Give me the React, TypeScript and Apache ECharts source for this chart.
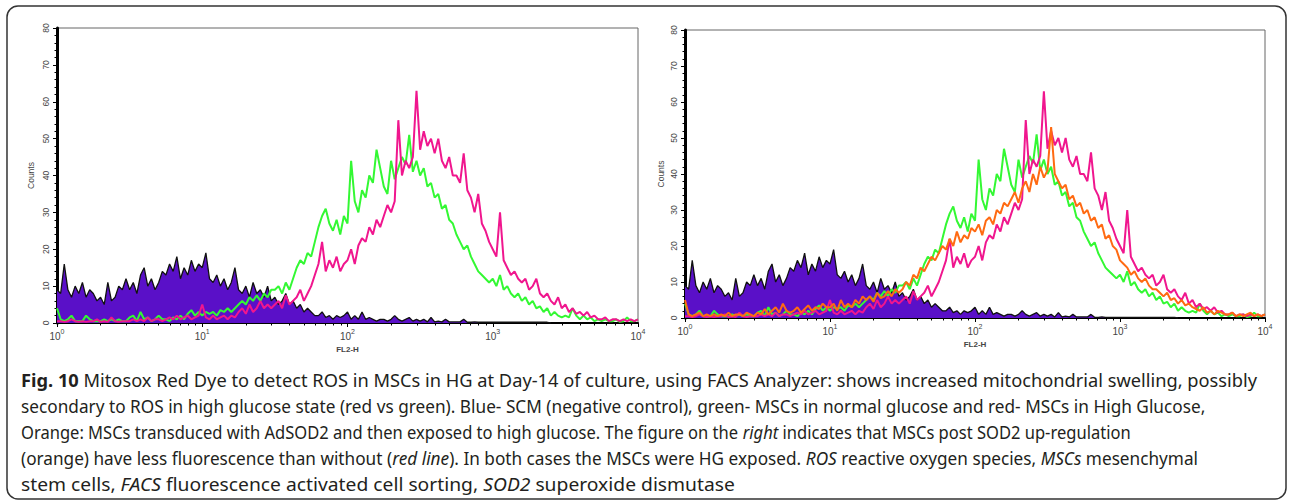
import React, { useEffect, useRef } from "react";
import * as echarts from "echarts";

// channel grid: log10(FL2-H) from 0 to 4 in steps of 0.025 decades
const E_STEP = 0.025;
const Y_MAX = 80;
const Y_STEP = 10;

// Blue – SCM (negative control)
const blueSCM = [
  9, 8, 16, 9, 7, 10, 8, 11, 7, 9,
  8, 6, 7, 5, 11, 6, 7, 10, 9, 12,
  9, 11, 8, 13, 15, 10, 12, 9, 11, 14,
  13, 16, 14, 18, 12, 15, 13, 17, 14, 16,
  15, 19, 12, 11, 13, 10, 12, 9, 11, 15,
  9, 8, 10, 7, 11, 8, 9, 7, 10, 6,
  7, 5, 6, 8, 5, 6, 4, 5, 3, 4,
  3, 2, 2, 3, 1.5, 2, 1, 2, 1.5, 2,
  3, 1, 2, 1, 3, 1, 1.5, 1, 0.5, 1,
  1, 0.5, 1, 2, 1, 0.5, 1, 1.5, 0.5, 1,
  0.5, 1, 0.3, 1.5, 0.3, 0.5, 0.3, 1, 0.3, 0.3,
  0.3, 0.3, 1, 0.2, 0.2, 0.3, 0.2, 0.2, 0.2, 0.2,
  0.2, 0.2, 0.2, 0.2, 0.2, 0.2, 0.2, 0.2, 0.2, 0.2,
  0.2, 0.2, 0.2, 0.2, 0.2, 0.2, 0,
];

// Green – MSCs in normal glucose
const greenNG = [
  4, 1, 0.5, 1, 2, 0.5, 0.5, 0.5, 2, 1,
  0.5, 0.5, 0.5, 1, 0.5, 1, 0.5, 1, 0.5, 0.5,
  1.5, 2, 0.5, 3, 1, 1.5, 0.5, 1, 2, 1,
  1, 0.5, 1.5, 1, 2, 1, 2.5, 3.5, 2, 3,
  2, 3, 2.5, 3, 2, 3.5, 3, 4, 3, 4,
  5, 6, 5, 7, 6, 7.5, 6, 8, 7, 9,
  9, 10, 8, 11, 9, 12, 15, 17, 16, 19,
  18, 22, 26, 29, 31, 27, 25, 28, 24, 29,
  27, 44, 33, 30, 36, 34, 40, 38, 47, 42,
  37, 35, 44, 39, 42, 45, 43, 51, 41, 44,
  40, 42, 37, 38, 34, 35, 31, 32, 28, 27,
  24, 22, 20, 21, 18, 16, 14, 13, 12, 11,
  12, 10, 13, 9, 10, 8, 7, 8, 6, 7,
  5, 6, 4, 4.5, 3, 4, 2, 3, 2, 1.5,
  2, 1.5, 4, 2, 1, 2, 1, 1.5, 0.5, 1,
  0.5, 1, 0.5, 0.5, 1, 0.3, 0.5, 1.5, 0.5, 0.5, 1,
];

// Red (pink) – MSCs in high glucose
const pinkHG = [
  0.5, 0.5, 0.3, 0.5, 1, 0.5, 0.3, 0.5, 0.3, 0.5,
  0.5, 1, 0.3, 0.5, 0.3, 1.5, 0.5, 0.3, 0.5, 0.5,
  0.5, 1, 0.5, 1, 0.5, 1.5, 0.5, 1, 1, 0.5,
  1, 1.5, 1, 2, 1, 1.5, 2, 1, 1.5, 2,
  5, 1.5, 1, 2, 1, 1.5, 2, 1, 2, 1.5,
  3, 4, 2.5, 5, 3, 4, 6, 4, 5, 4,
  5, 6, 4, 7.5, 5, 6, 7, 9, 6, 8,
  10, 13, 16, 22, 14, 17, 15, 18, 14, 16,
  17, 20, 16, 21, 23, 22, 26, 24, 28, 26,
  29, 32, 30, 33, 55, 40, 44, 42, 45, 63,
  47, 52, 48, 50, 46, 50, 44, 42, 45, 40,
  40, 38, 46, 36, 34, 30, 35, 27, 25, 22,
  20, 18, 30, 17, 15, 13, 14, 12, 11, 12,
  9, 10, 12, 8, 7, 8, 6, 5, 7, 4,
  5, 3, 4, 2.5, 3, 2, 3, 1.5, 2, 1,
  1, 1.5, 0.5, 1, 1, 0.5, 1, 0.5, 1, 0.5, 1,
];

// Orange – MSCs transduced with AdSOD2, then high glucose
const orangeAdSOD2 = [
  5, 1, 0.5, 1, 1.5, 0.5, 1, 0.5, 1, 0.5,
  1, 0.5, 1.5, 0.5, 1, 1, 0.5, 1.5, 1, 0.5,
  1.5, 1, 2.5, 1, 2, 3, 1.5, 4, 2, 1.5,
  2, 3, 1.5, 2.5, 3.5, 2, 3, 2.5, 4, 3,
  3, 4, 2, 5, 3, 4, 3, 5, 4, 6,
  5, 6, 4.5, 7, 5.5, 6, 7.5, 6, 8, 7,
  8, 10, 9, 12, 11, 14, 13, 15, 17, 16,
  18, 20, 19, 22, 20, 24, 21, 23, 22, 25,
  24, 26, 23, 27, 28, 26, 30, 29, 32, 31,
  33, 35, 32, 36, 38, 35, 40, 37, 42, 39,
  41, 53, 40, 38, 36, 37, 33, 34, 31, 32,
  29, 30, 27, 28, 25, 26, 22, 23, 20, 19,
  16, 15, 14, 12, 13, 11, 10, 11, 9, 8,
  8, 7, 6, 7, 5, 5.5, 4, 5, 3.5, 4,
  3, 2.5, 2, 3, 1.5, 2, 1, 2, 1.5, 1,
  1, 1.5, 0.5, 1, 0.5, 1, 1.5, 0.5, 1, 0.5, 1,
];

const CAPTION_LINES = [
  "{b|Fig. 10} Mitosox Red Dye to detect ROS in MSCs in HG at Day-14 of culture, using FACS Analyzer: shows increased mitochondrial swelling, possibly",
  "secondary to ROS in high glucose state (red vs green). Blue- SCM (negative control), green- MSCs in normal glucose and red- MSCs in High Glucose,",
  "Orange: MSCs transduced with AdSOD2 and then exposed to high glucose. The figure on the {i|right} indicates that MSCs post SOD2 up-regulation",
  "(orange) have less fluorescence than without ({i|red line}). In both cases the MSCs were HG exposed. {i|ROS} reactive oxygen species, {i|MSCs} mesenchymal",
  "stem cells, {i|FACS} fluorescence activated cell sorting, {i|SOD2} superoxide dismutase",
];
// right edge (px) of each caption line in the reference
const CAPTION_RIGHT = [1257, 1206, 1131, 1198, 735];

const COLORS = {
  blueFill: "#5a10c8",
  blueLine: "#111111",
  green: "#33f833",
  pink: "#f0168e",
  orange: "#ff6a12",
};

const toPoints = (vals: number[]) => vals.map((v, i) => [i * E_STEP, v]);

const minorLogTicks: number[] = [];
for (let d = 0; d < 4; d++) {
  for (let k = 2; k <= 9; k++) minorLogTicks.push(d + Math.log10(k));
}

const CAP_FONT = "Noto Sans";
const CAP_SIZE = 17.5;
const CAP_LEFT = 21;

function measureLine(line: string): number {
  const canvas = document.createElement("canvas");
  const ctx = canvas.getContext("2d");
  if (!ctx) return 0;
  let w = 0;
  const re = /\{(b|i)\|([^}]*)\}/g;
  let last = 0;
  let m: RegExpExecArray | null;
  const seg = (text: string, kind: string) => {
    const weight = kind === "b" ? "bold " : "";
    const style = kind === "i" ? "italic " : "";
    ctx.font = `${style}${weight}${CAP_SIZE}px "${CAP_FONT}"`;
    w += ctx.measureText(text).width;
  };
  while ((m = re.exec(line))) {
    if (m.index > last) seg(line.slice(last, m.index), "");
    seg(m[2], m[1]);
    last = m.index + m[0].length;
  }
  if (last < line.length) seg(line.slice(last), "");
  return w;
}

function makeAxes(gridIndex: number, nameGap: number) {
  const main = {
    type: "value",
    gridIndex,
    min: 0,
    max: 4,
    interval: 1,
    name: "FL2-H",
    nameLocation: "middle",
    nameGap,
    nameTextStyle: { fontSize: 8, color: "#444", fontFamily: "Liberation Sans", fontWeight: "bold" },
    axisLine: { show: true, onZero: false, lineStyle: { color: "#000", width: 2 } },
    axisTick: { show: true, length: 4, lineStyle: { color: "#000", width: 1 } },
    axisLabel: {
      margin: 5,
      formatter: (v: number) => `{a|10}{s|${v}}`,
      rich: {
        a: { fontSize: 10, color: "#444", fontFamily: "Liberation Sans", lineHeight: 13, verticalAlign: "bottom" },
        s: { fontSize: 7, color: "#444", fontFamily: "Liberation Sans", lineHeight: 13, verticalAlign: "top" },
      },
    },
    splitLine: { show: false },
  };
  const minor = {
    type: "value",
    gridIndex,
    min: 0,
    max: 4,
    position: "bottom",
    axisLine: { show: false },
    axisLabel: { show: false },
    axisTick: { show: true, length: 2.5, customValues: minorLogTicks, lineStyle: { color: "#000", width: 1 } },
    splitLine: { show: false },
  };
  return [main, minor];
}

function makeYAxis(gridIndex: number, nameGap: number) {
  return {
    type: "value",
    gridIndex,
    min: 0,
    max: Y_MAX,
    interval: Y_STEP,
    name: "Counts",
    nameLocation: "middle",
    nameGap,
    nameRotate: 90,
    nameTextStyle: { fontSize: 8.5, color: "#444", fontFamily: "Liberation Sans" },
    axisLine: { show: true, lineStyle: { color: "#000", width: 3 } },
    axisTick: { show: true, length: 4, lineStyle: { color: "#000", width: 1 } },
    minorTick: { show: true, splitNumber: 5, length: 2.5, lineStyle: { color: "#000", width: 1 } },
    axisLabel: { rotate: 90, fontSize: 8.5, color: "#444", fontFamily: "Liberation Sans", margin: 7 },
    splitLine: { show: false },
  };
}

function histSeries(name: string, data: number[], xAxisIndex: number, yAxisIndex: number, color: string, z: number, fill?: string) {
  return {
    name,
    type: "line",
    xAxisIndex,
    yAxisIndex,
    showSymbol: false,
    silent: true,
    z,
    data: toPoints(data),
    lineStyle: { color, width: fill ? 1.3 : 2 },
    areaStyle: fill ? { color: fill, opacity: 1 } : undefined,
  };
}

export default function App() {
  const ref = useRef<HTMLDivElement>(null);
  useEffect(() => {
    if (!ref.current) return;
    const chart = echarts.init(ref.current, undefined, { renderer: "svg" });
    const [x0, x0m] = makeAxes(0, 18);
    const [x1, x1m] = makeAxes(1, 18);
    chart.setOption({
      animation: false,
      backgroundColor: "#fff",
      grid: [
        { left: 57, top: 28, width: 581, height: 295, show: true, borderColor: "#666", borderWidth: 1, backgroundColor: "#fff" },
        { left: 685, top: 30, width: 580, height: 288, show: true, borderColor: "#666", borderWidth: 1, backgroundColor: "#fff" },
      ],
      xAxis: [x0, x0m, x1, x1m],
      yAxis: [makeYAxis(0, 22), makeYAxis(1, 20)],
      series: [
        histSeries("SCM", blueSCM, 0, 0, COLORS.blueLine, 2, COLORS.blueFill),
        histSeries("Normal glucose", greenNG, 0, 0, COLORS.green, 3),
        histSeries("High glucose", pinkHG, 0, 0, COLORS.pink, 4),
        histSeries("SCM", blueSCM, 2, 1, COLORS.blueLine, 2, COLORS.blueFill),
        histSeries("Normal glucose", greenNG, 2, 1, COLORS.green, 3),
        histSeries("High glucose", pinkHG, 2, 1, COLORS.pink, 4),
        histSeries("AdSOD2 + high glucose", orangeAdSOD2, 2, 1, COLORS.orange, 5),
      ],
      graphic: [
        {
          type: "rect",
          shape: { x: 7, y: 6, width: 1279, height: 493, r: 11 },
          style: { fill: "none", stroke: "#333", lineWidth: 1.5 },
          silent: true,
          z: 100,
        },
        ...CAPTION_LINES.map((line, i) => {
          const w = measureLine(line);
          const target = CAPTION_RIGHT[i] - CAP_LEFT;
          const sx = w > 0 ? Math.min(1.2, Math.max(0.85, target / w)) : 1;
          return {
            type: "text",
            x: CAP_LEFT,
            y: 380 + i * 26,
            scaleX: sx,
            silent: true,
            style: {
              text: line,
              fontFamily: CAP_FONT,
              fontSize: CAP_SIZE,
              fill: "#231f20",
              verticalAlign: "middle",
              rich: {
                b: { fontFamily: CAP_FONT, fontSize: CAP_SIZE, fontWeight: "bold", fill: "#231f20" },
                i: { fontFamily: CAP_FONT, fontSize: CAP_SIZE, fontStyle: "italic", fill: "#231f20" },
              },
            },
          };
        }),
      ],
    });
    return () => chart.dispose();
  }, []);
  return <div ref={ref} style={{ position: "fixed", left: 0, top: 0, width: 1289, height: 503 }} />;
}
